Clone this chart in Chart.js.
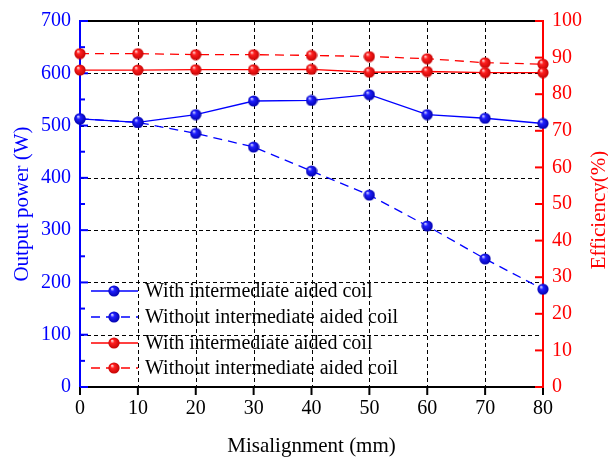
<!DOCTYPE html>
<html>
<head>
<meta charset="utf-8">
<script src="https://cdn.jsdelivr.net/npm/chart.js@4.4.0/dist/chart.umd.min.js"></script>
<style>
  body { margin: 0; background: #fff; }
  canvas { display: block; }
</style>
</head>
<body>
<canvas id="misChart" width="608" height="459"></canvas>
<script>
// misalignment (mm)
const misalignment = [0, 10, 20, 30, 40, 50, 60, 70, 80];
// output power (W)
const powerWith = [513, 506, 521, 547, 548, 559, 521, 514, 504];
const powerWithout = [513, 506, 485, 459, 413, 367, 308, 245, 187];
// efficiency (%)
const effWith = [86.6, 86.6, 86.7, 86.7, 86.8, 86.0, 86.2, 85.9, 85.9];
const effWithout = [91.1, 91.1, 90.8, 90.8, 90.6, 90.3, 89.7, 88.6, 88.2];

const seriesLabels = ['With intermediate aided coil', 'Without intermediate aided coil',
                      'With intermediate aided coil', 'Without intermediate aided coil'];
const xTitle = 'Misalignment (mm)';
const yTitle = 'Output power (W)';
const y1Title = 'Efficiency(%)';

const FONT = '"Liberation Serif", "Times New Roman", serif';
const BLUE = '#0000ff';
const RED = '#ff0000';

// shaded ball marker
function makeBall(light, mid, dark) {
    const c = document.createElement('canvas');
    c.width = 12; c.height = 12;
    const g = c.getContext('2d');
    const grad = g.createRadialGradient(4, 3.6, 0.3, 6, 6, 6);
    grad.addColorStop(0, light);
    grad.addColorStop(0.3, mid);
    grad.addColorStop(1, dark);
    g.fillStyle = grad;
    g.beginPath();
    g.arc(6, 6, 5.6, 0, Math.PI * 2);
    g.fill();
    return c;
}
const blueBall = makeBall('#d8d8ff', '#2020ff', '#0000a8');
const redBall = makeBall('#ffd8d8', '#ff2020', '#c00000');

function pts(ys) {
    return misalignment.map((x, i) => ({x: x, y: ys[i]}));
}

function series(label, ys, axis, color, ball, dashed) {
    return {
        label: label,
        data: pts(ys),
        yAxisID: axis,
        borderColor: color,
        borderWidth: 1.3,
        borderDash: dashed ? [9, 6] : [],
        pointStyle: ball,
        pointRadius: 6,
        pointHoverRadius: 6,
        tension: 0,
        clip: false,
        fill: false
    };
}

const frame = {
    id: 'frame',
    beforeDatasetsDraw(chart) {
        const ctx = chart.ctx;
        const a = chart.chartArea;
        const x = chart.scales.x, y = chart.scales.y, y1 = chart.scales.y1;
        ctx.save();
        // dashed grid
        ctx.strokeStyle = '#000';
        ctx.lineWidth = 1;
        ctx.setLineDash([4, 3]);
        x.ticks.forEach(t => {
            if (t.value <= x.min || t.value >= x.max) return;
            const px = Math.round(x.getPixelForValue(t.value)) + 0.5;
            ctx.beginPath(); ctx.moveTo(px, a.top); ctx.lineTo(px, a.bottom); ctx.stroke();
        });
        y.ticks.forEach(t => {
            if (t.value <= y.min || t.value >= y.max) return;
            const py = Math.round(y.getPixelForValue(t.value)) + 0.5;
            ctx.beginPath(); ctx.moveTo(a.left, py); ctx.lineTo(a.right, py); ctx.stroke();
        });
        ctx.setLineDash([]);
        ctx.lineWidth = 2;
        // top and bottom
        ctx.strokeStyle = '#000';
        ctx.beginPath(); ctx.moveTo(a.left, a.top); ctx.lineTo(a.right, a.top); ctx.stroke();
        ctx.beginPath(); ctx.moveTo(a.left, a.bottom); ctx.lineTo(a.right, a.bottom); ctx.stroke();
        // x ticks outward
        x.ticks.forEach(t => {
            const px = x.getPixelForValue(t.value);
            ctx.beginPath(); ctx.moveTo(px, a.bottom); ctx.lineTo(px, a.bottom + 8); ctx.stroke();
        });
        // left axis
        ctx.strokeStyle = BLUE;
        ctx.beginPath(); ctx.moveTo(a.left, a.top - 1); ctx.lineTo(a.left, a.bottom); ctx.stroke();
        for (let v = y.min; v <= y.max; v += 50) {
            const py = y.getPixelForValue(v);
            const len = v % 100 === 0 ? 8 : 5;
            ctx.beginPath(); ctx.moveTo(a.left, py); ctx.lineTo(a.left + len, py); ctx.stroke();
        }
        // right axis
        ctx.strokeStyle = RED;
        ctx.beginPath(); ctx.moveTo(a.right, a.top - 1); ctx.lineTo(a.right, a.bottom + 1); ctx.stroke();
        y1.ticks.forEach(t => {
            const py = y1.getPixelForValue(t.value);
            ctx.beginPath(); ctx.moveTo(a.right, py); ctx.lineTo(a.right - 8, py); ctx.stroke();
        });
        ctx.restore();
    },
    afterDatasetsDraw(chart) {
        const ctx = chart.ctx;
        const a = chart.chartArea;
        ctx.save();
        // legend inside plot
        const rowY = [291, 317, 343, 368];
        chart.data.datasets.forEach((ds, i) => {
            const cy = rowY[i];
            ctx.strokeStyle = ds.borderColor;
            ctx.lineWidth = 1.3;
            ctx.setLineDash(ds.borderDash.length ? [9, 6] : []);
            ctx.beginPath(); ctx.moveTo(91, cy); ctx.lineTo(138, cy); ctx.stroke();
            ctx.setLineDash([]);
            ctx.drawImage(ds.pointStyle, 108, cy - 6);
            ctx.fillStyle = '#000';
            ctx.font = '20px ' + FONT;
            ctx.textBaseline = 'middle';
            ctx.textAlign = 'left';
            ctx.fillText(ds.label, 145, cy + 1);
        });
        // axis titles
        ctx.font = '21px ' + FONT;
        ctx.textBaseline = 'alphabetic';
        ctx.fillStyle = '#000';
        ctx.textAlign = 'center';
        ctx.fillText(xTitle, (a.left + a.right) / 2, 452);
        ctx.fillStyle = BLUE;
        ctx.save();
        ctx.translate(27.5, (a.top + a.bottom) / 2);
        ctx.rotate(-Math.PI / 2);
        ctx.fillText(yTitle, 0, 0);
        ctx.restore();
        ctx.fillStyle = RED;
        ctx.save();
        ctx.translate(605, (a.top + a.bottom) / 2 + 6);
        ctx.rotate(-Math.PI / 2);
        ctx.fillText(y1Title, 0, 0);
        ctx.restore();
        ctx.restore();
    }
};

const ctx = document.getElementById('misChart');

new Chart(ctx, {
    type: 'line',
    data: {
        datasets: [
            series(seriesLabels[0], powerWith, 'y', BLUE, blueBall, false),
            series(seriesLabels[1], powerWithout, 'y', BLUE, blueBall, true),
            series(seriesLabels[2], effWith, 'y1', RED, redBall, false),
            series(seriesLabels[3], effWithout, 'y1', RED, redBall, true)
        ]
    },
    options: {
        responsive: false,
        animation: false,
        devicePixelRatio: 1,
        layout: { padding: { top: 15, left: 0, right: 0, bottom: 0 } },
        plugins: { legend: { display: false }, tooltip: { enabled: false } },
        scales: {
            x: {
                type: 'linear', min: 0, max: 80,
                grid: { display: false, drawTicks: false },
                border: { display: false },
                ticks: { stepSize: 10, color: '#000', padding: 10, font: { family: FONT, size: 20 } },
                afterFit(s) { s.height = 72; }
            },
            y: {
                position: 'left', min: 0, max: 700,
                grid: { display: false, drawTicks: false },
                border: { display: false },
                ticks: { stepSize: 100, color: BLUE, padding: 9, font: { family: FONT, size: 20 } },
                afterFit(s) { s.width = 80; }
            },
            y1: {
                position: 'right', min: 0, max: 100,
                grid: { display: false, drawTicks: false },
                border: { display: false },
                ticks: { stepSize: 10, color: RED, padding: 9, font: { family: FONT, size: 20 } },
                afterFit(s) { s.width = 65; }
            }
        }
    },
    plugins: [frame]
});
</script>
</body>
</html>
